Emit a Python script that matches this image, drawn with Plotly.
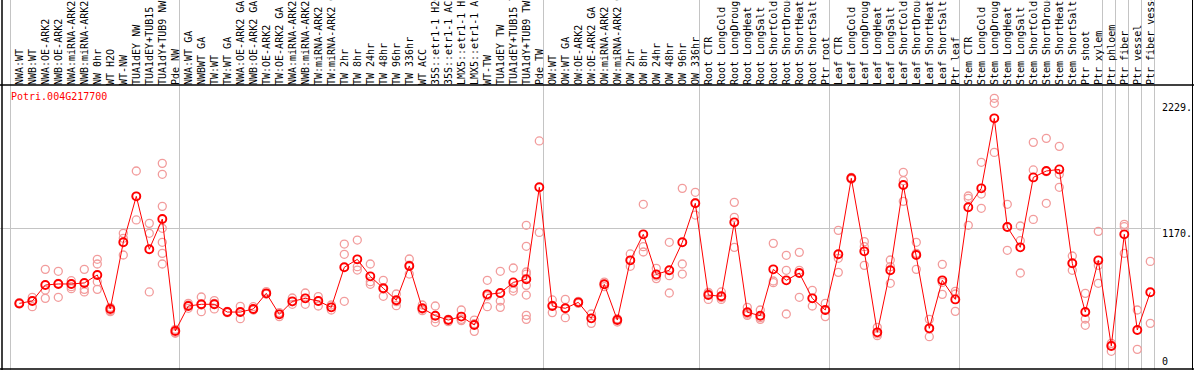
import plotly.graph_objects as go

gene_id = "Potri.004G217700"

categories = [
    "NWA:WT", "NWB:WT", "NWA:OE-ARK2", "NWB:OE-ARK2", "NWA:miRNA-ARK2", "NWB:miRNA-ARK2",
    "NW 0hr", "WT H2O", "WT-NW", "TUA1dEY NW", "TUA1dEY+TUB15 NW", "TUA1dY+TUB9 NW", "Pde NW",
    "NWA:WT GA", "NWBWT GA", "TW:WT", "TW:WT GA", "NWA:OE-ARK2 GA", "NWB:OE-ARK2 GA",
    "TW:OE-ARK2", "TW:OE-ARK2 GA", "NWA:miRNA-ARK2 GA", "NWB:miRNA-ARK2 GA", "TW:miRNA-ARK2",
    "TW:miRNA-ARK2 GA", "TW 2hr", "TW 8hr", "TW 24hr", "TW 48hr", "TW 96hr", "TW 336hr",
    "WT ACC", "35S::etr1-1 H2O", "35S::etr1-1 ACC", "LMX5::etr1-1 H2O", "LMX5::etr1-1 ACC",
    "WT-TW", "TUA1dEY TW", "TUA1dEY+TUB15 TW", "TUA1dY+TUB9 TW", "Pde TW",
    "OW:WT", "OW:WT GA", "OW:OE-ARK2", "OW:OE-ARK2 GA", "OW:miRNA-ARK2", "OW:miRNA-ARK2 GA",
    "OW 2hr", "OW 8hr", "OW 24hr", "OW 48hr", "OW 96hr", "OW 336hr",
    "Root CTR", "Root LongCold", "Root LongDrought", "Root LongHeat", "Root LongSalt",
    "Root ShortCold", "Root ShortDrought", "Root ShortHeat", "Root ShortSalt", "Ptr root",
    "Leaf CTR", "Leaf LongCold", "Leaf LongDrought", "Leaf LongHeat", "Leaf LongSalt",
    "Leaf ShortCold", "Leaf ShortDrought", "Leaf ShortHeat", "Leaf ShortSalt", "Ptr leaf",
    "Stem CTR", "Stem LongCold", "Stem LongDrought", "Stem LongHeat", "Stem LongSalt",
    "Stem ShortCold", "Stem ShortDrought", "Stem ShortHeat", "Stem ShortSalt",
    "Ptr shoot", "Ptr xylem", "Ptr phloem", "Ptr fiber", "Ptr vessel", "Ptr fiber vessel",
]

means = [
    511, 532, 672, 681, 681, 690, 760, 462, 1046, 1449, 985, 1250, 269,
    488, 503, 503, 435, 435, 462, 599, 415, 529, 555, 532, 476, 827, 897, 748, 643,
    538, 839, 468, 403, 365, 395, 322, 590, 602, 695, 722, 1528,
    488, 468, 520, 380, 678, 365, 888, 1116, 765, 801, 1046, 1388,
    584, 573, 1221, 433, 403, 809, 713, 777, 555, 453,
    941, 1607, 967, 257, 801, 1548, 935, 292, 713, 546,
    1353, 1519, 2132, 1180, 1002, 1615, 1671, 1685, 862, 435, 888,
    138, 1116, 278, 608,
]

replicates = [
    [505, 511, 518], [564, 535, 482], [809, 628, 555], [792, 687, 564], [710, 681, 657, 640],
    [809, 634, 611], [897, 856, 701, 634], [476, 447, 438], [1125, 1081, 935], [1671, 1242, 1449],
    [1212, 1125, 611], [1738, 1642, 1361, 1169, 1046, 949, 856], [284, 254, 249],
    [511, 497, 468], [567, 497, 438], [535, 511, 462], [441, 430, 435], [485, 377, 435],
    [482, 453, 462], [614, 593, 593], [430, 395, 418], [558, 503, 525], [602, 503, 555],
    [570, 488, 532], [497, 453, 476], [1031, 941, 529], [1066, 833, 803], [856, 701, 678],
    [713, 637, 573], [593, 491, 526], [900, 768, 847], [497, 447, 459], [488, 345, 377],
    [371, 351, 371], [453, 360, 371], [365, 266, 333], [713, 482, 576], [792, 532, 476],
    [821, 643, 619], [1195, 1011, 786, 768, 669, 584, 406, 371], [1934, 1133],
    [541, 430, 494], [546, 386, 468], [529, 511, 520], [418, 336, 380], [698, 657, 678],
    [377, 348, 371], [944, 836, 888], [1379, 1008, 961], [818, 728, 751], [1046, 754, 602],
    [1519, 856, 768], [1484, 1285, 1393],
    [599, 546, 608], [611, 546, 561], [1396, 1265, 1002], [476, 406, 418], [453, 371, 386],
    [1037, 707, 692], [932, 801, 418], [958, 564, 801], [625, 488, 555], [511, 395, 453],
    [1151, 906, 783], [1615, 1598, 1607], [1052, 1008, 844], [301, 228, 243], [891, 833, 687],
    [1659, 1586, 1405], [1046, 809, 949], [371, 219, 287], [853, 590, 695], [617, 593, 441],
    [1452, 1431, 1195], [1747, 1469, 1344], [2308, 2264, 1834], [1379, 976, 1183],
    [1189, 1060, 777], [1922, 1680, 1247], [1957, 1665, 1388], [1887, 1642, 1528],
    [926, 801, 862], [599, 374, 319], [1142, 844, 687],
    [161, 91, 143], [1204, 1183, 949], [453, 108], [879, 336],
]

group_starts = [0, 13, 41, 53, 63, 73, 84, 85, 86, 87, 88]
y_ticks_outer = [0, 2229]
y_tick_mid = 1170

W, H = 1194, 370
MONO = "DejaVu Sans Mono"

# pixel geometry of the reference (layout only)
x0_px, step_px, grid_off_px = 19.3, 13.0, 8.6
plot_right_px = 1161
y_zero_px, px_per_unit = 361.7, 0.11413
header_px = 85

x_range = [-x0_px / step_px, (plot_right_px - x0_px) / step_px]
y_range = [(y_zero_px - H) / px_per_unit, y_zero_px / px_per_unit]
x_dom = [0, plot_right_px / W]

idx = list(range(len(categories)))
rep_x, rep_y = [], []
for i, reps in enumerate(replicates):
    for v in reps:
        rep_x.append(i)
        rep_y.append(v)

fig = go.Figure()
# replicates on the main axes
fig.add_trace(go.Scatter(
    x=rep_x, y=rep_y, mode="markers", xaxis="x", yaxis="y",
    marker=dict(symbol="circle-open", size=8, color="#f29c9c", line=dict(width=1.3)),
    hoverinfo="skip", showlegend=False,
))
# means on the overlay axes (same ranges): drawn on top, and they make the
# overlay axes (category header, mid tick + grid) render
fig.add_trace(go.Scatter(
    x=idx, y=means, mode="lines+markers", xaxis="x2", yaxis="y2",
    line=dict(color="#ff0000", width=1),
    marker=dict(symbol="circle-open", size=8, color="#ff0000", line=dict(width=1.9)),
    text=categories, showlegend=False,
))

fig.update_layout(
    width=W, height=H,
    margin=dict(l=0, r=0, t=0, b=0, pad=0, autoexpand=False),
    paper_bgcolor="white", plot_bgcolor="white",
    showlegend=False,
    xaxis=dict(
        domain=x_dom, range=x_range, fixedrange=True, automargin=False,
        tickmode="array", tickvals=[k - grid_off_px / step_px for k in group_starts],
        showticklabels=False, ticks="", showgrid=True, gridcolor="#c4c4c4", gridwidth=1,
        zeroline=False, showline=False,
    ),
    xaxis2=dict(
        overlaying="x", domain=x_dom, range=x_range, anchor="free",
        position=(H - header_px) / H, side="top", fixedrange=True, automargin=False,
        tickmode="array", tickvals=idx, ticktext=categories, tickangle=-90,
        ticks="", showgrid=False, zeroline=False, showline=False,
        ticklabelstandoff=0,
        tickfont=dict(family=MONO, size=10, color="black"),
    ),
    yaxis=dict(
        domain=[0, 1], range=y_range, side="right", fixedrange=True, automargin=False,
        tickmode="array", tickvals=y_ticks_outer,
        ticktext=[str(v) if v == 0 else f"{v}." for v in y_ticks_outer],
        ticks="", showgrid=False, zeroline=False, showline=False,
        tickfont=dict(family=MONO, size=10, color="black"),
    ),
    yaxis2=dict(
        overlaying="y", range=y_range, side="right", anchor="x", fixedrange=True,
        automargin=False,
        tickmode="array", tickvals=[y_tick_mid], ticktext=[f"{y_tick_mid}."],
        ticks="", showgrid=True, gridcolor="#c4c4c4", gridwidth=1,
        zeroline=False, showline=False, ticklabelshift=5,
        tickfont=dict(family=MONO, size=10, color="black"),
    ),
    annotations=[dict(
        text=gene_id, xref="paper", yref="paper", x=9 / W, y=(H - 96.7) / H,
        xanchor="left", yanchor="middle", showarrow=False,
        font=dict(family=MONO, size=10, color="#ff0000"),
    )],
    shapes=[
        dict(type="line", xref="paper", yref="paper", x0=0, x1=1,
             y0=(H - header_px) / H, y1=(H - header_px) / H, line=dict(color="black", width=1.5)),
        dict(type="line", xref="paper", yref="paper", x0=2 / W, x1=2 / W, y0=0, y1=1,
             line=dict(color="black", width=1.5)),
        dict(type="line", xref="paper", yref="paper", x0=0, x1=1, y0=1 / H, y1=1 / H,
             line=dict(color="black", width=1.5)),
        dict(type="line", xref="paper", yref="paper", x0=1192.5 / W, x1=1192.5 / W, y0=0, y1=1,
             line=dict(color="black", width=1)),
    ],
)

fig.write_html(
    "out.html",
    config={"displayModeBar": False, "staticPlot": False},
    post_script="document.body.style.margin='0';",
)
